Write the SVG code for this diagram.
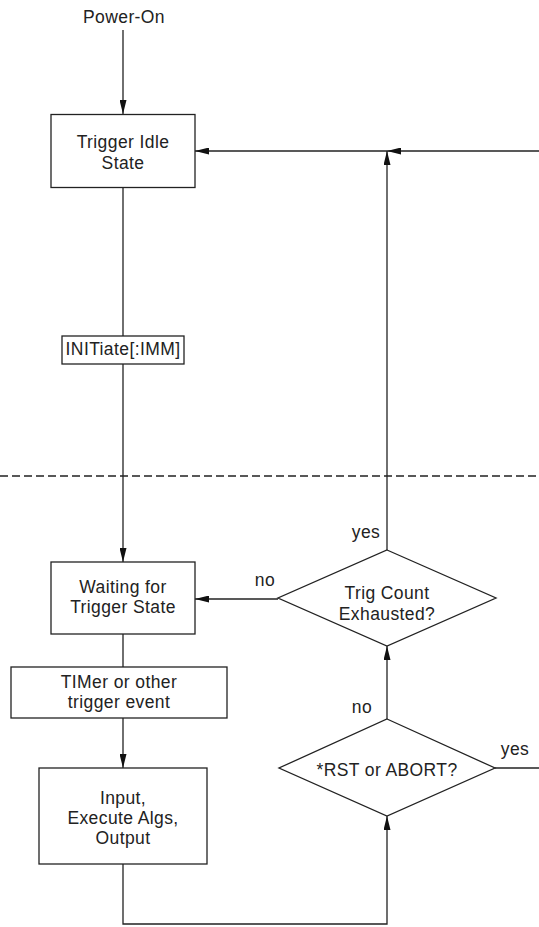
<svg xmlns="http://www.w3.org/2000/svg" width="539" height="927" viewBox="0 0 539 927">
<defs>
<marker id="ah" viewBox="0 0 14 7" refX="14" refY="3.5" markerWidth="14" markerHeight="7" markerUnits="userSpaceOnUse" orient="auto">
<path d="M0,0 L14,3.5 L0,7 Z" fill="#111"/>
</marker>
</defs>
<style>
.box{fill:#fff;stroke:#222;stroke-width:1.3}
.ln{fill:none;stroke:#222;stroke-width:1.3}
.arr{marker-end:url(#ah)}
.t{font-family:"Liberation Sans",Arial,sans-serif;font-size:17.5px;letter-spacing:0.4px;fill:#222;text-anchor:middle}
</style>
<rect width="539" height="927" fill="#fff"/>
<line x1="0" y1="476" x2="539" y2="476" stroke="#222" stroke-width="1.3" stroke-dasharray="8,4"/>
<g id="connectors">
<line class="ln arr" x1="123" y1="30" x2="123" y2="114"/>
<line class="ln arr" x1="123" y1="187" x2="123" y2="562"/>
<line class="ln arr" x1="539" y1="151" x2="387" y2="151"/>
<line class="ln arr" x1="387" y1="151" x2="195" y2="151"/>
<line class="ln arr" x1="387" y1="550" x2="387" y2="151"/>
<line class="ln arr" x1="278" y1="599" x2="195" y2="599"/>
<line class="ln" x1="123" y1="634" x2="123" y2="667"/>
<line class="ln arr" x1="123" y1="718" x2="123" y2="768"/>
<polyline class="ln arr" points="123,864 123,924 387,924 387,816"/>
<line class="ln arr" x1="387" y1="719" x2="387" y2="646"/>
<line class="ln" x1="495" y1="768" x2="539" y2="768"/>
<text class="t" x="366" y="538">yes</text>
<text class="t" x="265" y="586">no</text>
<text class="t" x="362" y="713">no</text>
<text class="t" x="515" y="755">yes</text>
</g>
<g id="power-on"><text class="t" x="124" y="23">Power-On</text></g>
<g id="trigger-idle">
<rect class="box" x="51" y="114.5" width="144" height="73"/>
<text class="t" x="123" y="148">Trigger Idle</text>
<text class="t" x="123" y="168.5">State</text>
</g>
<g id="initiate">
<rect class="box" x="62" y="336" width="122" height="28"/>
<text class="t" x="123" y="355">INITiate[:IMM]</text>
</g>
<g id="waiting">
<rect class="box" x="51" y="562" width="144" height="72"/>
<text class="t" x="123" y="592.5">Waiting for</text>
<text class="t" x="123" y="613">Trigger State</text>
</g>
<g id="timer">
<rect class="box" x="11" y="667" width="216" height="51"/>
<text class="t" x="119" y="688">TIMer or other</text>
<text class="t" x="119" y="708">trigger event</text>
</g>
<g id="input">
<rect class="box" x="39" y="768" width="168" height="96"/>
<text class="t" x="123" y="804">Input,</text>
<text class="t" x="123" y="824">Execute Algs,</text>
<text class="t" x="123" y="844">Output</text>
</g>
<g id="trig-count">
<polygon class="box" points="387,550 496,598 387,646 278,598"/>
<text class="t" x="387" y="599">Trig Count</text>
<text class="t" x="387" y="619.5">Exhausted?</text>
</g>
<g id="rst-abort">
<polygon class="box" points="387,719 495,768 387,816 279,768"/>
<text class="t" x="387" y="776">*RST or ABORT?</text>
</g>
</svg>
